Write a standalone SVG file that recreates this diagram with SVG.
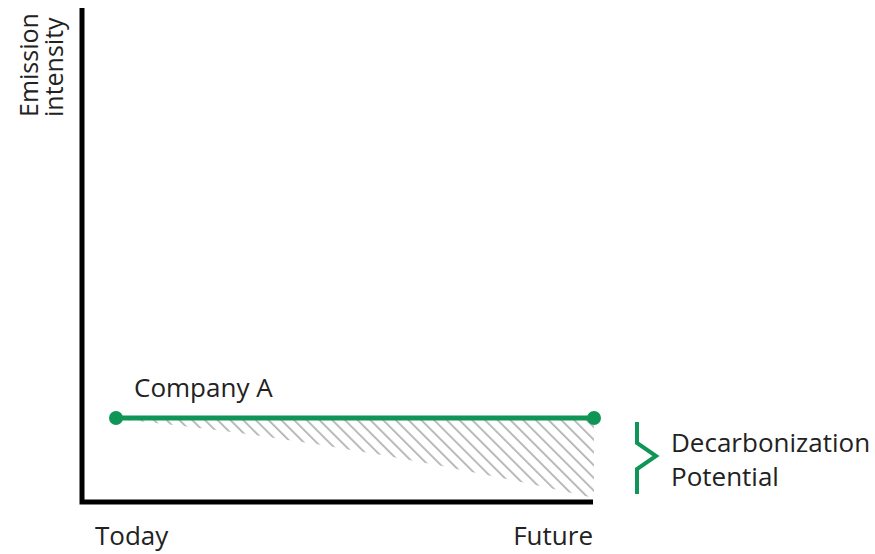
<svg xmlns="http://www.w3.org/2000/svg" width="875" height="554" viewBox="0 0 875 554">
<style>
text{font-family:"Open Sans","Noto Sans","DejaVu Sans",sans-serif;fill:#222;}
.lbl{font-size:26px;}
.green{stroke:#0f9656;fill:none;}
.axis{stroke:#000;stroke-width:5;fill:none;}
</style>
<defs>
<pattern id="hatch" width="9" height="9" patternUnits="userSpaceOnUse" patternTransform="rotate(-45)">
<line x1="0" y1="0" x2="0" y2="9" stroke="#b0b2b4" stroke-width="3.5"/>
</pattern>
</defs>
<rect width="875" height="554" fill="#fff"/>
<g id="hatched-area">
<path d="M116,419 L594,419 L594,498 Q340,440 116,419 Z" fill="url(#hatch)"/>
</g>
<g id="axes">
<path class="axis" d="M82,8 L82,502 L593,502"/>
</g>
<g id="connectors">
<line class="green" x1="116" y1="418" x2="594" y2="418" stroke-width="5"/>
<circle cx="116" cy="418" r="7" fill="#0f9656"/>
<circle cx="594" cy="418" r="7" fill="#0f9656"/>
<path class="green" stroke-width="4" d="M637,422 L637,443 L656,456 L637,469 L637,494"/>
</g>
<g id="y-label">
<text transform="translate(38,117) rotate(-90)" font-size="25">Emission</text>
<text transform="translate(63,117) rotate(-90)" font-size="25">intensity</text>
</g>
<g id="company-a"><text class="lbl" x="134" y="397">Company A</text></g>
<g id="decarb">
<text class="lbl" x="671" y="452">Decarbonization</text>
<text class="lbl" x="671" y="486">Potential</text>
</g>
<g id="x-labels">
<text class="lbl" x="95" y="545">Today</text>
<text class="lbl" x="593" y="545" text-anchor="end">Future</text>
</g>
</svg>
